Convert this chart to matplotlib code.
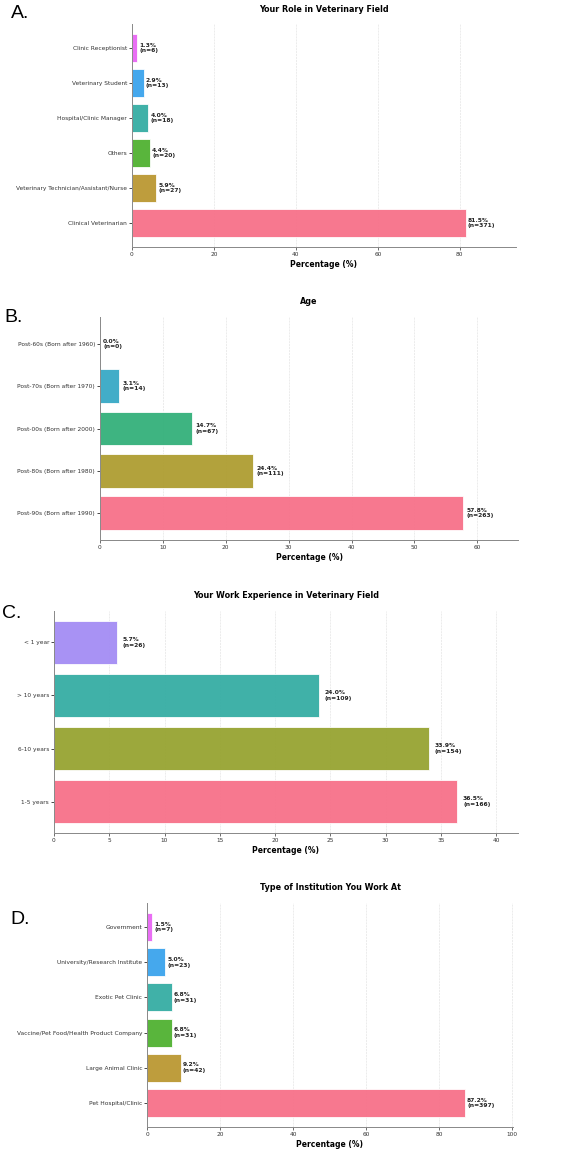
import matplotlib
matplotlib.use('Agg')
import matplotlib.pyplot as plt
import seaborn as sns

# Panel A - role in veterinary field (bottom to top)
role_labels = ['Clinical Veterinarian', 'Veterinary Technician/Assistant/Nurse', 'Others',
               'Hospital/Clinic Manager', 'Veterinary Student', 'Clinic Receptionist']
role_pct = [81.5, 5.9, 4.4, 4.0, 2.9, 1.3]
role_n = [371, 27, 20, 18, 13, 6]

# Panel B - age
age_labels = ['Post-90s (Born after 1990)', 'Post-80s (Born after 1980)', 'Post-00s (Born after 2000)',
              'Post-70s (Born after 1970)', 'Post-60s (Born after 1960)']
age_pct = [57.8, 24.4, 14.7, 3.1, 0.0]
age_n = [263, 111, 67, 14, 0]

# Panel C - work experience
exp_labels = ['1-5 years', '6-10 years', '> 10 years', '< 1 year']
exp_pct = [36.5, 33.9, 24.0, 5.7]
exp_n = [166, 154, 109, 26]

# Panel D - institution type
inst_labels = ['Pet Hospital/Clinic', 'Large Animal Clinic', 'Vaccine/Pet Food/Health Product Company',
               'Exotic Pet Clinic', 'University/Research Institute', 'Government']
inst_pct = [87.2, 9.2, 6.8, 6.8, 5.0, 1.5]
inst_n = [397, 42, 31, 31, 23, 7]

W, H = 567, 1152
fig = plt.figure(figsize=(W / 100, H / 100), dpi=100)


def panel(box, letter, letter_xy, title, labels, pct, n):
    # box given in pixels: left, top, right, bottom
    l, t, r, b = box
    ax = fig.add_axes([l / W, 1 - b / H, (r - l) / W, (b - t) / H])
    colors = sns.color_palette('husl', len(labels))
    ypos = range(len(labels))
    ax.barh(ypos, pct, height=0.8, color=colors, alpha=0.95, edgecolor='white', linewidth=0.6)
    for y, p, k in zip(ypos, pct, n):
        ax.text(p + 0.5, y, f'{p:.1f}%\n(n={k})', va='center', ha='left',
                fontsize=4.3, fontweight='bold', color='#222222', linespacing=1.1)
    ax.set_yticks(list(ypos))
    ax.set_yticklabels(labels, fontsize=4.2, color='#333333')
    ax.set_xlim(0, max(pct) * 1.15)
    ax.tick_params(axis='x', labelsize=4.2, colors='#333333', length=2, width=0.5, pad=1.5)
    ax.tick_params(axis='y', length=2, width=0.5, pad=1.5)
    ax.set_xlabel('Percentage (%)', fontsize=5.5, fontweight='bold', labelpad=2)
    ax.set_title(title, fontsize=5.8, fontweight='bold', pad=9)
    ax.grid(axis='x', color='#bbbbbb', alpha=0.5, linestyle='--', linewidth=0.4)
    ax.set_axisbelow(True)
    for s in ['top', 'right']:
        ax.spines[s].set_visible(False)
    for s in ['left', 'bottom']:
        ax.spines[s].set_color('#888888')
        ax.spines[s].set_linewidth(0.7)
    fig.text(letter_xy[0] / W, 1 - letter_xy[1] / H, letter, fontsize=14,
             family='Liberation Sans', va='center', ha='left')
    return ax


panel((132, 24, 516, 247), 'A.', (11, 13), 'Your Role in Veterinary Field',
      role_labels, role_pct, role_n)
panel((100, 317, 518, 540), 'B.', (4, 317), 'Age',
      age_labels, age_pct, age_n)
panel((54, 611, 518, 833), 'C.', (2, 613), 'Your Work Experience in Veterinary Field',
      exp_labels, exp_pct, exp_n)
panel((147, 903, 513, 1127), 'D.', (10, 919), 'Type of Institution You Work At',
      inst_labels, inst_pct, inst_n)

fig.savefig('out.png', dpi=100)
